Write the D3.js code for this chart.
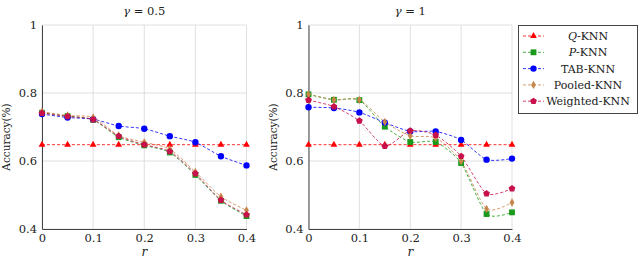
<!DOCTYPE html>
<html>
<head>
<meta charset="utf-8">
<script src="https://cdn.jsdelivr.net/npm/d3@7"></script>
<style>
  body { margin: 0; background: #fff; }
  svg text { fill: #222; }
</style>
</head>
<body>
<svg id="chart" width="640" height="258"></svg>
<script>
// data
var rValues = [0, 0.05, 0.1, 0.15, 0.2, 0.25, 0.3, 0.35, 0.4];
var xTicks = [0, 0.1, 0.2, 0.3, 0.4];
var yTicks = [0.4, 0.6, 0.8, 1];
var seriesNames = ["Q-KNN", "P-KNN", "TAB-KNN", "Pooled-KNN", "Weighted-KNN"];

// gamma = 0.5
var qKnn05 = [0.648, 0.648, 0.648, 0.648, 0.648, 0.648, 0.648, 0.648, 0.648];
var pKnn05 = [0.742, 0.732, 0.721, 0.670, 0.646, 0.625, 0.559, 0.483, 0.438];
var tabKnn05 = [0.738, 0.728, 0.723, 0.703, 0.695, 0.673, 0.655, 0.614, 0.587];
var pooledKnn05 = [0.745, 0.734, 0.728, 0.675, 0.655, 0.635, 0.568, 0.495, 0.455];
var weightedKnn05 = [0.741, 0.731, 0.722, 0.673, 0.648, 0.628, 0.563, 0.485, 0.442];

// gamma = 1
var qKnn1 = [0.648, 0.648, 0.648, 0.648, 0.648, 0.648, 0.648, 0.648, 0.648];
var pKnn1 = [0.796, 0.780, 0.779, 0.701, 0.656, 0.656, 0.594, 0.444, 0.449];
var tabKnn1 = [0.758, 0.756, 0.743, 0.713, 0.687, 0.687, 0.662, 0.604, 0.607];
var pooledKnn1 = [0.796, 0.780, 0.780, 0.715, 0.674, 0.668, 0.600, 0.459, 0.478];
var weightedKnn1 = [0.779, 0.760, 0.718, 0.644, 0.689, 0.676, 0.614, 0.504, 0.519];

var colors = ["#ff0000", "#1a9a1a", "#0000ff", "#c8854a", "#c8104a"];
var symbols = [d3.symbolTriangle, d3.symbolSquare, d3.symbolCircle, d3.symbolDiamond, "pentagon"];
var symSizes = [20, 34, 32, 20, 30];
var serif = "'DejaVu Serif', 'Liberation Serif', 'Noto Serif', serif";

var svg = d3.select("#chart");

function pentagon(size) {
  var r = Math.sqrt(size / 2.4);
  var p = d3.path();
  for (var i = 0; i < 5; i++) {
    var a = -Math.PI / 2 + i * 2 * Math.PI / 5;
    if (i == 0) p.moveTo(r * Math.cos(a), r * Math.sin(a));
    else p.lineTo(r * Math.cos(a), r * Math.sin(a));
  }
  p.closePath();
  return p.toString();
}

function markerPath(k) {
  if (symbols[k] == "pentagon") return pentagon(symSizes[k]);
  return d3.symbol().type(symbols[k]).size(symSizes[k])();
}

function drawPanel(left, right, title, series) {
  var top = 25, bottom = 229;
  var x = d3.scaleLinear().domain([0, 0.4]).range([left, right]);
  var y = d3.scaleLinear().domain([0.4, 1]).range([bottom, top]);
  var g = svg.append("g").attr("font-family", serif);

  // grid
  g.selectAll(".gx").data(xTicks).enter().append("line")
    .attr("x1", function (d) { return x(d); }).attr("x2", function (d) { return x(d); })
    .attr("y1", top).attr("y2", bottom)
    .attr("stroke", "#d8d8d8").attr("stroke-width", 0.8);
  g.selectAll(".gy").data(yTicks).enter().append("line")
    .attr("y1", function (d) { return y(d); }).attr("y2", function (d) { return y(d); })
    .attr("x1", left).attr("x2", right)
    .attr("stroke", "#d8d8d8").attr("stroke-width", 0.8);

  // axes
  var xAxis = d3.axisBottom(x).tickValues(xTicks).tickSize(0).tickPadding(5)
    .tickFormat(function (d) { return d == 0 ? "0" : d3.format(".1f")(d); });
  var yAxis = d3.axisLeft(y).tickValues(yTicks).tickSize(0).tickPadding(5)
    .tickFormat(function (d) { return d == 1 ? "1" : d3.format(".1f")(d); });
  var gx = g.append("g").attr("transform", "translate(0," + bottom + ")").call(xAxis);
  var gy = g.append("g").attr("transform", "translate(" + left + ",0)").call(yAxis);
  [gx, gy].forEach(function (a) {
    a.attr("font-family", serif).attr("font-size", 11.5);
    a.select(".domain").attr("stroke", "#444").attr("stroke-width", 1);
    a.selectAll("text").attr("fill", "#222");
  });

  g.append("text").attr("x", (left + right) / 2).attr("y", 15)
    .attr("text-anchor", "middle").attr("font-size", 11.5)
    .html('<tspan font-style="italic">γ</tspan> = ' + title);
  g.append("text").attr("x", (left + right) / 2).attr("y", 256)
    .attr("text-anchor", "middle").attr("font-size", 12).attr("font-style", "italic").text("r");
  g.append("text").attr("transform", "translate(" + (left - 32) + ",137) rotate(-90)")
    .attr("text-anchor", "middle").attr("font-size", 10.5).text("Accuracy(%)");

  var line = d3.line()
    .x(function (d, i) { return x(rValues[i]); })
    .y(function (d) { return y(d); })
    .curve(d3.curveCardinal.tension(0.3));

  series.forEach(function (vals, k) {
    g.append("path").datum(vals)
      .attr("d", line)
      .attr("fill", "none").attr("stroke", colors[k])
      .attr("stroke-width", 0.8).attr("stroke-dasharray", "3,2");
  });
  series.forEach(function (vals, k) {
    g.selectAll(".m" + k).data(vals).enter().append("path")
      .attr("transform", function (d, i) { return "translate(" + x(rValues[i]) + "," + y(d) + ")"; })
      .attr("d", markerPath(k))
      .attr("fill", colors[k]);
  });
}

drawPanel(42, 246.5, "0.5", [qKnn05, pKnn05, tabKnn05, pooledKnn05, weightedKnn05]);
drawPanel(308.5, 512, "1", [qKnn1, pKnn1, tabKnn1, pooledKnn1, weightedKnn1]);

// legend
var lg = svg.append("g").attr("font-family", serif);
lg.append("rect").attr("x", 518.5).attr("y", 25.5).attr("width", 119).attr("height", 88)
  .attr("fill", "#fff").attr("stroke", "#444").attr("stroke-width", 1);
seriesNames.forEach(function (name, k) {
  var yy = 36 + k * 16.3;
  lg.append("line").attr("x1", 523).attr("x2", 544).attr("y1", yy).attr("y2", yy)
    .attr("stroke", colors[k]).attr("stroke-width", 0.8).attr("stroke-dasharray", "3,2");
  lg.append("path").attr("transform", "translate(533.5," + yy + ")").attr("d", markerPath(k)).attr("fill", colors[k]);
  var t = lg.append("text").attr("x", 588).attr("y", yy + 4).attr("text-anchor", "middle").attr("font-size", 11);
  if (k < 2) {
    t.append("tspan").attr("font-style", "italic").text(name.charAt(0));
    t.append("tspan").text(name.slice(1));
  } else {
    t.text(name);
  }
});
</script>
</body>
</html>
